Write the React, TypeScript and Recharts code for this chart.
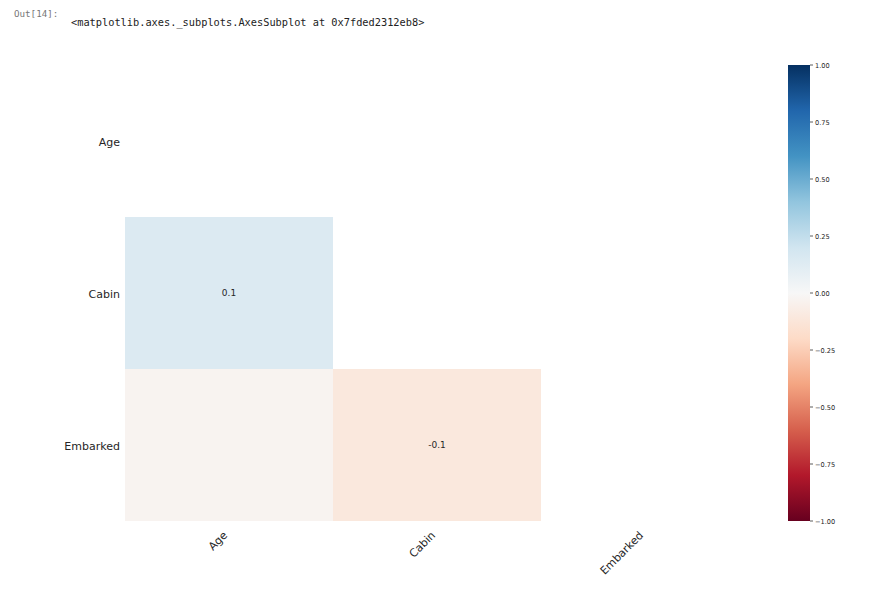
import React from 'react';
import { ComposedChart, XAxis, YAxis, ReferenceArea } from 'recharts';

// ---- data ----
const variables = ['Age', 'Cabin', 'Embarked'];
const cellRows = [1, 2, 2];
const cellCols = [0, 0, 1];
const cellValues = [0.14, -0.03, -0.11];
const colorbarTicks = [-1, -0.75, -0.5, -0.25, 0, 0.25, 0.5, 0.75, 1];
const headerPrompt = 'Out[14]:';
const headerOutput = '<matplotlib.axes._subplots.AxesSubplot at 0x7fded2312eb8>';

// RdBu colormap (position 0 -> 1)
const RDBU = ['#67001f', '#b2182b', '#d6604d', '#f4a582', '#fddbc7', '#f7f7f7', '#d1e5f0', '#92c5de', '#4393c3', '#2166ac', '#053061'];

const hex = (h: string) => [1, 3, 5].map((i) => parseInt(h.slice(i, i + 2), 16));
const colorFor = (v: number) => {
  const p = Math.max(0, Math.min(1, (v + 1) / 2)) * (RDBU.length - 1);
  const i = Math.min(RDBU.length - 2, Math.floor(p));
  const t = p - i;
  const a = hex(RDBU[i]);
  const b = hex(RDBU[i + 1]);
  const c = a.map((x, k) => Math.round(x + (b[k] - x) * t));
  return `rgb(${c[0]},${c[1]},${c[2]})`;
};
const annot = (v: number) => {
  if (v > -0.05 && v < 0.05) return '';
  return String(Math.round(v * 10) / 10);
};

const FONT = '"DejaVu Sans", sans-serif';
const MONO = '"DejaVu Sans Mono", monospace';

const XTick = (props: any) => {
  const { x, y, payload } = props;
  const tx = x - 1;
  const ty = y + 15;
  return (
    <text x={tx} y={ty} textAnchor="end" fontSize={11} fontFamily={FONT} fill="#262626" transform={`rotate(-45 ${tx} ${ty})`}>
      {variables[Math.floor(payload.value)]}
    </text>
  );
};

const YTick = (props: any) => {
  const { x, y, payload } = props;
  return (
    <text x={x} y={y} dy={5} textAnchor="end" fontSize={11} fontFamily={FONT} fill="#262626">
      {variables[Math.floor(payload.value)]}
    </text>
  );
};

const CbTick = (props: any) => {
  const { x, y, payload } = props;
  return (
    <text x={x} y={y} dy={2.5} textAnchor="start" fontSize={6.6} fontFamily={FONT} fill="#262626">
      {Number(payload.value).toFixed(2).replace('-', '\u2212')}
    </text>
  );
};

const tickPositions = variables.map((_, i) => i + 0.5);
const frame = variables.map((name, i) => ({ name, x: i + 0.5, y: i + 0.5 }));
const cbFrame = [{ x: 0, y: -1 }, { x: 1, y: 1 }];

export default function App() {
  return (
    <div style={{ position: 'fixed', left: 0, top: 0, width: 873, height: 593, background: '#fff', overflow: 'hidden' }}>
      <div style={{ position: 'absolute', left: 14, top: 8, fontFamily: MONO, fontSize: 9.2, color: '#777', lineHeight: '12px', whiteSpace: 'pre' }}>
        {headerPrompt}
      </div>
      <div style={{ position: 'absolute', left: 71, top: 16, fontFamily: MONO, fontSize: 10.3, color: '#222', lineHeight: '12px', whiteSpace: 'pre' }}>
        {headerOutput}
      </div>
      <div style={{ position: 'absolute', left: 0, top: 0 }}>
        <ComposedChart width={873} height={593} data={frame} margin={{ top: 65, right: 124, bottom: 22, left: 65 }}>
          <XAxis
            dataKey="x"
            type="number"
            domain={[0, 3]}
            ticks={tickPositions}
            axisLine={false}
            tickLine={false}
            tickSize={0}
            tickMargin={0}
            height={50}
            tick={<XTick />}
            interval={0}
          />
          <YAxis
            dataKey="y"
            type="number"
            domain={[0, 3]}
            reversed
            ticks={tickPositions}
            axisLine={false}
            tickLine={false}
            tickSize={0}
            tickMargin={5}
            width={60}
            tick={<YTick />}
            interval={0}
          />
          {cellValues.map((v, i) => (
            <ReferenceArea
              key={i}
              x1={cellCols[i]}
              x2={cellCols[i] + 1}
              y1={cellRows[i]}
              y2={cellRows[i] + 1}
              fill={colorFor(v)}
              fillOpacity={1}
              stroke="none"
              ifOverflow="visible"
              label={{ value: annot(v), position: 'center', fontSize: 9, fill: '#262626', fontFamily: FONT }}
            />
          ))}
        </ComposedChart>
      </div>
      <div style={{ position: 'absolute', left: 760, top: 0 }}>
        <ComposedChart width={113} height={593} data={cbFrame} margin={{ top: 65, right: 33, bottom: 72, left: 28 }}>
          <defs>
            <linearGradient id="rdbu" x1="0" y1="0" x2="0" y2="1">
              {RDBU.slice().reverse().map((c, i) => (
                <stop key={i} offset={`${(i / (RDBU.length - 1)) * 100}%`} stopColor={c} />
              ))}
            </linearGradient>
          </defs>
          <XAxis dataKey="x" type="number" domain={[0, 1]} hide />
          <YAxis
            dataKey="y"
            orientation="right"
            type="number"
            domain={[-1, 1]}
            ticks={colorbarTicks}
            interval={0}
            axisLine={false}
            tickSize={3}
            tickMargin={2}
            width={30}
            tickLine={{ stroke: '#333', strokeWidth: 0.8 }}
            tick={<CbTick />}
          />
          <ReferenceArea x1={0} x2={1} y1={-1} y2={1} fill="url(#rdbu)" fillOpacity={1} stroke="none" ifOverflow="visible" />
        </ComposedChart>
      </div>
    </div>
  );
}
